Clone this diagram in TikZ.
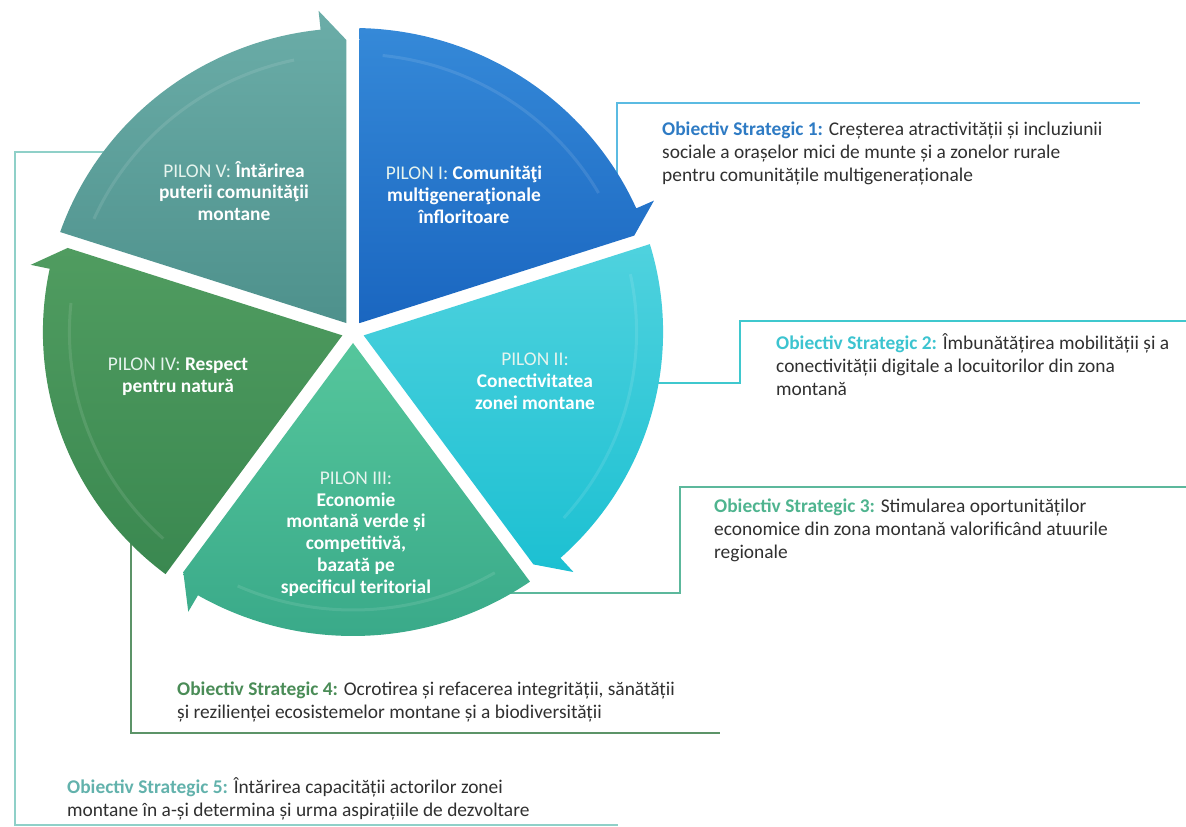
\documentclass[tikz,border=0pt]{standalone}
\usepackage{fontspec}
\setmainfont{Carlito}
\usetikzlibrary{calc}
\definecolor{segVt}{HTML}{6BADA8}\definecolor{segVb}{HTML}{4E918C}
\definecolor{segIt}{HTML}{3589D8}\definecolor{segIb}{HTML}{1A66C0}
\definecolor{segIIt}{HTML}{4FD2DE}\definecolor{segIIb}{HTML}{1CC0D2}
\definecolor{segIIIt}{HTML}{55C69C}\definecolor{segIIIb}{HTML}{38A888}
\definecolor{segIVt}{HTML}{509C60}\definecolor{segIVb}{HTML}{3A8850}
\definecolor{lnI}{HTML}{5BBBE2}\definecolor{lnII}{HTML}{3FC8CE}
\definecolor{lnIII}{HTML}{5CB89C}\definecolor{lnIV}{HTML}{5C9468}
\definecolor{lnV}{HTML}{8FD0C8}
\definecolor{lbI}{HTML}{2E7BC4}\definecolor{lbII}{HTML}{3CC4D0}
\definecolor{lbIII}{HTML}{4FB48F}\definecolor{lbIV}{HTML}{4A8C57}
\definecolor{lbV}{HTML}{62B2AC}
\definecolor{txt}{HTML}{303030}
\definecolor{pilreg}{HTML}{E6F4EE}
\newcommand\pilseg[3]{%
  \pgfmathsetmacro\segsa{#1}\pgfmathsetmacro\segea{#1-72}%
  \path[top color=#2,bottom color=#3]
    (\segsa-36:11) -- (\segsa-1.2:304)
    arc[start angle=\segsa-1.2,end angle=\segea+6,radius=304]
    -- (\segea+6:323) -- ($(\segea:292)+(\segea+90:6.5)$) -- cycle;
  \draw[white,opacity=0.1,line width=3pt]
    (\segsa-6:278) arc[start angle=\segsa-6,end angle=\segea+12,radius=278];}
\begin{document}
\begin{tikzpicture}[x=1pt,y=1pt,
  conn/.style={line width=1.8pt},
  piltext/.style={white,align=center,font=\fontsize{19.4}{21.8}\selectfont,inner sep=0},
  objtext/.style={txt,align=left,anchor=north west,font=\fontsize{19.4}{23}\selectfont,inner sep=0}]
\useasboundingbox[fill=white] (0,0) rectangle (1186,827);
% connector end coordinates (under the ring)
\coordinate (s1) at (617,640);
\coordinate (s2) at (640,444);
\coordinate (s3) at (500,234);
\coordinate (s4) at (131,300);
\coordinate (s5) at (110,675);
\coordinate (c1) at (617,724);
\coordinate (e1) at (1140,724);
\coordinate (c2a) at (740,444);
\coordinate (c2b) at (740,506);
\coordinate (e2) at (1186,506);
\coordinate (c3a) at (680,234);
\coordinate (c3b) at (680,340);
\coordinate (e3) at (1186,340);
\coordinate (c4) at (131,94);
\coordinate (e4) at (720,94);
\coordinate (c5a) at (15,675);
\coordinate (c5b) at (15,2);
\coordinate (e5) at (618,2);
\draw[conn,lnI] (s1) -- (c1) -- (e1);
\draw[conn,lnII] (s2) -- (c2a) -- (c2b) -- (e2);
\draw[conn,lnIII] (s3) -- (c3a) -- (c3b) -- (e3);
\draw[conn,lnIV] (s4) -- (c4) -- (e4);
\draw[conn,lnV] (s5) -- (c5a) -- (c5b) -- (e5);
% ring
\begin{scope}[shift={(353,495)},xscale=1.02]
\pilseg{162}{segVt}{segVb}
\pilseg{90}{segIt}{segIb}
\pilseg{18}{segIIt}{segIIb}
\pilseg{-54}{segIIIt}{segIIIb}
\pilseg{-126}{segIVt}{segIVb}
\end{scope}
% pillar texts
\node[piltext] (p5) at (234,636) {\textcolor{pilreg}{PILON V:} \textbf{Întărirea}\\\textbf{puterii comunităţii}\\\textbf{montane}};
\node[piltext] (p1) at (464,632) {\textcolor{pilreg}{PILON I:} \textbf{Comunităţi}\\\textbf{multigeneraţionale}\\\textbf{înfloritoare}};
\node[piltext] (p2) at (535,446) {\textcolor{pilreg}{PILON II:}\\\textbf{Conectivitatea}\\\textbf{zonei montane}};
\node[piltext] (p3) at (356,293) {\textcolor{pilreg}{PILON III:}\\\textbf{Economie}\\\textbf{montană verde și}\\\textbf{competitivă,}\\\textbf{bazată pe}\\\textbf{specificul teritorial}};
\node[piltext] (p4) at (178,450) {\textcolor{pilreg}{PILON IV:} \textbf{Respect}\\\textbf{pentru natură}};
% objectives
\node[objtext] (o1) at (662,705) {\textcolor{lbI}{\textbf{Obiectiv Strategic 1:}} Creșterea atractivității și incluziunii\\sociale a orașelor mici de munte și a zonelor rurale\\pentru comunitățile multigeneraționale};
\node[objtext] (o2) at (776,494) {\textcolor{lbII}{\textbf{Obiectiv Strategic 2:}} Îmbunătățirea mobilității și a\\conectivității digitale a locuitorilor din zona\\montană};
\node[objtext] (o3) at (714,328) {\textcolor{lbIII}{\textbf{Obiectiv Strategic 3:}} Stimularea oportunităților\\economice din zona montană valorificând atuurile\\regionale};
\node[objtext] (o4) at (177,145) {\textcolor{lbIV}{\textbf{Obiectiv Strategic 4:}} Ocrotirea și refacerea integrității, sănătății\\și rezilienței ecosistemelor montane și a biodiversității};
\node[objtext] (o5) at (67,50) {\textcolor{lbV}{\textbf{Obiectiv Strategic 5:}} Întărirea capacității actorilor zonei\\montane în a-și determina și urma aspirațiile de dezvoltare};
\end{tikzpicture}
\end{document}
